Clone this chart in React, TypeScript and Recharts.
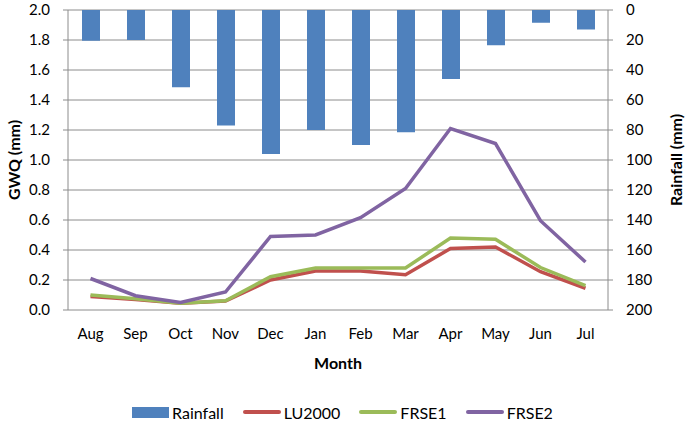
import React from "react";
import {
  ComposedChart,
  Bar,
  Line,
  XAxis,
  YAxis,
  CartesianGrid,
  Legend,
} from "recharts";

const months = ["Aug", "Sep", "Oct", "Nov", "Dec", "Jan", "Feb", "Mar", "Apr", "May", "Jun", "Jul"];
const rainfall = [20.5, 20, 51.5, 77, 96, 80, 90, 81.5, 46, 23.5, 8.5, 13];
const lu2000 = [0.09, 0.07, 0.045, 0.06, 0.2, 0.26, 0.26, 0.235, 0.41, 0.42, 0.255, 0.145];
const frse1 = [0.1, 0.075, 0.045, 0.062, 0.222, 0.28, 0.28, 0.28, 0.48, 0.472, 0.283, 0.162];
const frse2 = [0.21, 0.095, 0.05, 0.12, 0.49, 0.5, 0.615, 0.81, 1.21, 1.11, 0.595, 0.32];

const seriesOrder = ["Rainfall", "LU2000", "FRSE1", "FRSE2"];
const gwqTicks = [0, 0.2, 0.4, 0.6, 0.8, 1.0, 1.2, 1.4, 1.6, 1.8, 2.0];
const rainTicks = [0, 20, 40, 60, 80, 100, 120, 140, 160, 180, 200];
const edgeTicks = [0, 1, 2, 3, 4, 5, 6, 7, 8, 9, 10, 11, 12];

const data = months.map((m, i) => ({
  month: m,
  Rainfall: rainfall[i],
  LU2000: lu2000[i],
  FRSE1: frse1[i],
  FRSE2: frse2[i],
}));

const FONT = "Lato, 'Open Sans', sans-serif";
const GRID = "#8c8c8c";
const tickStyle = { fill: "#000", fontSize: 15, fontFamily: FONT };

const VerticalTitle = ({ viewBox, value, dxFromLeft }: any) => {
  const x = viewBox.x + dxFromLeft;
  const y = viewBox.y + viewBox.height / 2;
  return (
    <text
      x={x}
      y={y}
      transform={`rotate(-90, ${x}, ${y})`}
      textAnchor="middle"
      dominantBaseline="central"
      fontFamily={FONT}
      fontSize={16}
      fontWeight="bold"
      fill="#000"
    >
      {value}
    </text>
  );
};

const MonthTitle = ({ viewBox }: any) => (
  <text
    x={viewBox.x + viewBox.width / 2}
    y={viewBox.y + 52}
    textAnchor="middle"
    dominantBaseline="central"
    fontFamily={FONT}
    fontSize={16}
    fontWeight="bold"
    fill="#000"
  >
    Month
  </text>
);

const LegendContent = ({ payload }: any) => {
  const items = [...(payload || [])].sort(
    (a: any, b: any) => seriesOrder.indexOf(a.value) - seriesOrder.indexOf(b.value)
  );
  return (
    <div
      style={{
        display: "flex",
        justifyContent: "center",
        alignItems: "center",
        gap: 19,
        fontFamily: FONT,
        fontSize: 16,
        color: "#000",
        height: 30,
      }}
    >
      {items.map((p: any) => (
        <div key={p.value} style={{ display: "flex", alignItems: "center", gap: 3 }}>
          {p.type === "rect" ? (
            <span style={{ display: "inline-block", width: 37, height: 11, background: p.color }} />
          ) : (
            <span style={{ display: "inline-block", width: 38, height: 4, borderRadius: 2, background: p.color }} />
          )}
          <span>{p.value}</span>
        </div>
      ))}
    </div>
  );
};

export default function App() {
  return (
    <div style={{ position: "absolute", left: 0, top: 0, background: "#fff" }}>
      <ComposedChart
        width={685}
        height={427}
        data={data}
        margin={{ top: 10, right: 0, left: 0, bottom: 0 }}
      >
        <CartesianGrid vertical={false} stroke={GRID} yAxisId="left" />
        <XAxis
          xAxisId="edges"
          type="number"
          domain={[0, 12]}
          ticks={edgeTicks}
          allowDataOverflow
          height={0}
          tick={false}
          axisLine={{ stroke: GRID }}
          tickLine={{ stroke: GRID }}
          tickSize={5}
        />
        <XAxis
          xAxisId="cat"
          dataKey="month"
          height={87}
          axisLine={false}
          tickLine={false}
          tickSize={5}
          tickMargin={13}
          tick={tickStyle}
          interval={0}
          label={<MonthTitle />}
        />
        <YAxis
          yAxisId="left"
          domain={[0, 2]}
          ticks={gwqTicks}
          width={68}
          tickFormatter={(v: number) => v.toFixed(1)}
          tick={tickStyle}
          tickSize={5}
          tickMargin={13}
          axisLine={{ stroke: GRID }}
          tickLine={{ stroke: GRID }}
          label={<VerticalTitle value="GWQ (mm)" dxFromLeft={13} />}
        />
        <YAxis
          yAxisId="right"
          orientation="right"
          domain={[0, 200]}
          ticks={rainTicks}
          reversed
          width={77}
          tick={tickStyle}
          tickSize={5}
          tickMargin={13}
          axisLine={{ stroke: GRID }}
          tickLine={{ stroke: GRID }}
          label={<VerticalTitle value="Rainfall (mm)" dxFromLeft={67} />}
        />
        <Legend
          verticalAlign="bottom"
          height={30}
          content={<LegendContent />}
        />
        <Bar
          xAxisId="cat"
          yAxisId="right"
          dataKey="Rainfall"
          fill="#4F81BD"
          barSize={18}
          legendType="rect"
          isAnimationActive={false}
        />
        <Line
          xAxisId="cat"
          yAxisId="left"
          dataKey="LU2000"
          stroke="#C0504D"
          strokeWidth={3.5}
          dot={false}
          legendType="line"
          isAnimationActive={false}
        />
        <Line
          xAxisId="cat"
          yAxisId="left"
          dataKey="FRSE1"
          stroke="#9BBB59"
          strokeWidth={3.5}
          dot={false}
          legendType="line"
          isAnimationActive={false}
        />
        <Line
          xAxisId="cat"
          yAxisId="left"
          dataKey="FRSE2"
          stroke="#8064A2"
          strokeWidth={3.5}
          dot={false}
          legendType="line"
          isAnimationActive={false}
        />
      </ComposedChart>
    </div>
  );
}
